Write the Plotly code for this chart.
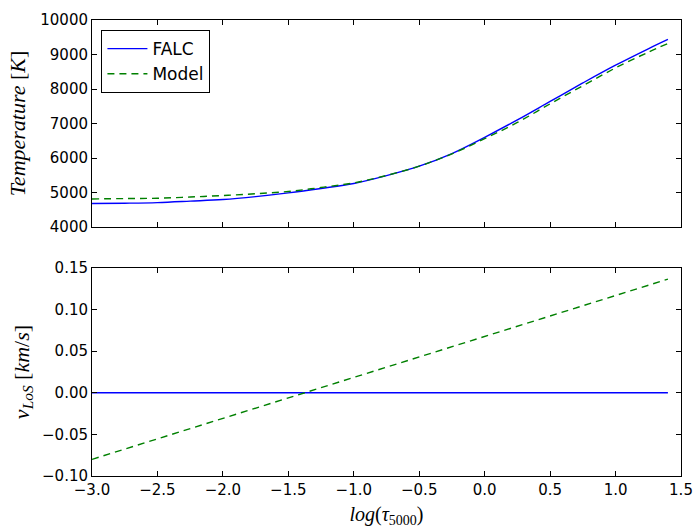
import plotly.graph_objects as go

# ---- data ----
log_tau_T = [-3.0, -2.75, -2.5, -2.25, -2.0, -1.75, -1.5, -1.25, -1.0, -0.75,
             -0.5, -0.25, 0.0, 0.25, 0.5, 0.75, 1.0, 1.25, 1.4]
temp_falc = [4680, 4690, 4708, 4750, 4796, 4880, 4988, 5117, 5262, 5490,
             5764, 6130, 6600, 7105, 7640, 8175, 8690, 9166, 9437]
temp_model = [4813, 4825, 4834, 4870, 4913, 4965, 5029, 5146, 5280, 5495,
              5764, 6120, 6560, 7030, 7570, 8096, 8612, 9067, 9320]

log_tau_v = [-3.0, -2.5, -2.0, -1.5, -1.0, -0.5, 0.0, 0.5, 1.0, 1.4]
v_falc = [0.0, 0.0, 0.0, 0.0, 0.0, 0.0, 0.0, 0.0, 0.0, 0.0]
v_model = [-0.080, -0.0554, -0.0308, -0.0061, 0.0185, 0.0431, 0.0678,
           0.0924, 0.1170, 0.1367]

x_ticks = [-3.0, -2.5, -2.0, -1.5, -1.0, -0.5, 0.0, 0.5, 1.0, 1.5]
x_ticktext = ["\u22123.0", "\u22122.5", "\u22122.0", "\u22121.5", "\u22121.0",
              "\u22120.5", "0.0", "0.5", "1.0", "1.5"]
t_ticks = [4000, 5000, 6000, 7000, 8000, 9000, 10000]
t_ticktext = ["4000", "5000", "6000", "7000", "8000", "9000", "10000"]
v_ticks = [-0.10, -0.05, 0.0, 0.05, 0.10, 0.15]
v_ticktext = ["\u22120.10", "\u22120.05", "0.00", "0.05", "0.10", "0.15"]

BLUE = "#0000ff"
GREEN = "#008000"
DASH = "7px,5px"

fig = go.Figure()
fig.add_trace(go.Scatter(x=log_tau_T, y=temp_falc, mode="lines", name="FALC",
                         line=dict(color=BLUE, width=1.4, shape="spline"),
                         xaxis="x2", yaxis="y2"))
fig.add_trace(go.Scatter(x=log_tau_T, y=temp_model, mode="lines", name="Model",
                         line=dict(color=GREEN, width=1.4, dash=DASH, shape="spline"),
                         xaxis="x2", yaxis="y2"))
fig.add_trace(go.Scatter(x=log_tau_v, y=v_falc, mode="lines", showlegend=False,
                         line=dict(color=BLUE, width=1.4), xaxis="x", yaxis="y"))
fig.add_trace(go.Scatter(x=log_tau_v, y=v_model, mode="lines", showlegend=False,
                         line=dict(color=GREEN, width=1.4, dash=DASH), xaxis="x", yaxis="y"))

tickfont = dict(family="DejaVu Sans", size=15, color="black")
titlefont = dict(family="Liberation Serif", size=22, color="black")
common = dict(showline=True, linecolor="black", linewidth=1, mirror="ticks",
              ticks="inside", ticklen=5, tickwidth=1, tickcolor="black",
              showgrid=False, zeroline=False, tickfont=tickfont, automargin=False)

fig.update_layout(
    width=693, height=529,
    margin=dict(l=92, r=12, t=20, b=53),
    paper_bgcolor="white", plot_bgcolor="white",
    xaxis=dict(range=[-3.0, 1.5], domain=[0, 1], anchor="y",
               tickvals=x_ticks, ticktext=x_ticktext,
               title=dict(text="<i>log</i>(<i>\u03c4</i><sub>5000</sub>)",
                          font=dict(family="Liberation Serif", size=20, color="black"), standoff=8),
               **common),
    xaxis2=dict(range=[-3.0, 1.5], domain=[0, 1], anchor="y2", matches="x",
                tickvals=x_ticks, showticklabels=False, **common),
    yaxis=dict(range=[-0.10, 0.15], domain=[0, 0.456], anchor="x",
               tickvals=v_ticks, ticktext=v_ticktext,
               title=dict(text="<i>v</i><sub><i>LoS</i></sub> [<i>km</i>/<i>s</i>]", font=titlefont, standoff=6),
               **common),
    yaxis2=dict(range=[4000, 10000], domain=[0.546, 1], anchor="x2",
                tickvals=t_ticks, ticktext=t_ticktext,
                title=dict(text="<i>Temperature</i> [<i>K</i>]", font=titlefont, standoff=8),
                **common),
    legend=dict(x=0.016, y=0.978, xref="paper", yref="paper", xanchor="left", yanchor="top",
                bordercolor="black", borderwidth=1, bgcolor="white",
                font=dict(family="DejaVu Sans", size=17, color="black"),
                tracegroupgap=4, itemwidth=40),
)

fig.write_html("out.html", config={"displayModeBar": False},
               post_script="document.body.style.margin='0';document.body.style.padding='0';")
